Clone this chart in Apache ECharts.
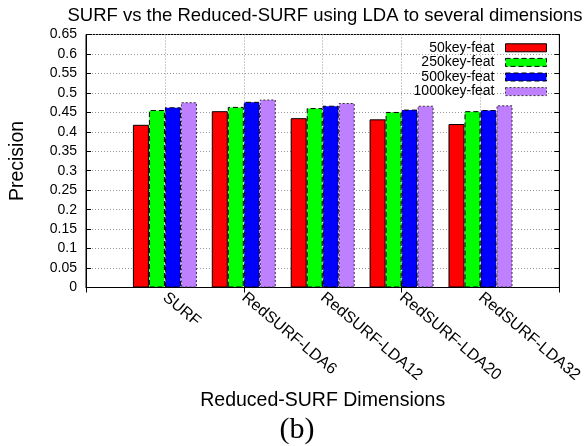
<!DOCTYPE html>
<html>
<head>
<meta charset="utf-8">
<script src="https://cdn.jsdelivr.net/npm/echarts@6/dist/echarts.min.js"></script>
<style>
html,body{margin:0;padding:0;background:#fff;}
#c{width:585px;height:446px;}
</style>
</head>
<body>
<div id="c"></div>
<script>
const categories = ['SURF', 'RedSURF-LDA6', 'RedSURF-LDA12', 'RedSURF-LDA20', 'RedSURF-LDA32'];
const seriesNames = ['50key-feat', '250key-feat', '500key-feat', '1000key-feat'];
const feat50 = [0.418, 0.453, 0.435, 0.432, 0.420];
const feat250 = [0.456, 0.464, 0.461, 0.451, 0.453];
const feat500 = [0.463, 0.477, 0.467, 0.457, 0.456];
const feat1000 = [0.476, 0.483, 0.474, 0.467, 0.468];
const yTicks = [0, 0.05, 0.1, 0.15, 0.2, 0.25, 0.3, 0.35, 0.4, 0.45, 0.5, 0.55, 0.6, 0.65];

const FONT = '"Liberation Sans", Arial, sans-serif';
const colors = ['#ff0000', '#00ff00', '#0000ff', '#bf80ff'];
const borderTypes = ['solid', [5, 3], [5, 3], [2, 2]];
const borderColors = ['#000', '#000', '#000', '#333'];
const allValues = [feat50, feat250, feat500, feat1000];

const cats = [''].concat(categories, ['']);
function pad(a) { return [null].concat(a, [null]); }

const chart = echarts.init(document.getElementById('c'), null, {renderer: 'canvas'});
const series = allValues.map((vals, i) => ({
  name: seriesNames[i],
  type: 'bar',
  data: pad(vals),
  barWidth: 16,
  barGap: '0%',
  itemStyle: {
    color: colors[i],
    borderColor: borderColors[i],
    borderWidth: 1,
    borderType: borderTypes[i]
  }
}));

chart.setOption({
  animation: false,
  backgroundColor: '#fff',
  title: {
    text: 'SURF vs the Reduced-SURF using LDA to several dimensions',
    left: 320, textAlign: 'center', top: 1,
    textStyle: {fontFamily: FONT, fontSize: 18.5, fontWeight: 'normal', color: '#000'}
  },
  legend: {
    data: seriesNames.map((n, i) => ({
      name: n,
      itemStyle: {color: colors[i], borderColor: borderColors[i], borderWidth: 1, borderType: borderTypes[i]}
    })),
    orient: 'vertical',
    right: 33, top: 35.5,
    align: 'right',
    icon: 'rect',
    itemWidth: 41, itemHeight: 8,
    itemGap: 0,
    textStyle: {fontFamily: FONT, fontSize: 14, color: '#000', lineHeight: 14.6, padding: [0, 6, 0, 0]},
    backgroundColor: 'rgba(255,255,255,0)'
  },
  grid: {left: 84, right: 22, top: 34.5, bottom: 446 - 287.5, show: true, borderColor: '#000', borderWidth: 1, backgroundColor: 'transparent'},
  xAxis: [{
    type: 'category',
    data: cats,
    boundaryGap: false,
    axisLine: {lineStyle: {color: '#000'}},
    axisTick: {inside: true, length: 5, lineStyle: {color: '#000'}},
    axisLabel: {rotate: -40, fontFamily: FONT, fontSize: 16, color: '#000', margin: 8, interval: 0},
    splitLine: {show: true, lineStyle: {color: '#999', type: [1, 2], width: 1}},
    name: 'Reduced-SURF Dimensions',
    nameLocation: 'middle',
    nameGap: 89,
    nameTextStyle: {fontFamily: FONT, fontSize: 19.5, color: '#000'}
  }, {
    type: 'category',
    data: cats,
    boundaryGap: false,
    position: 'top',
    axisLine: {show: false},
    axisTick: {inside: true, length: 5, lineStyle: {color: '#000'}},
    axisLabel: {show: false},
    splitLine: {show: false}
  }],
  yAxis: [{
    type: 'value',
    min: 0, max: 0.65, interval: 0.05,
    axisLine: {show: true, lineStyle: {color: '#000'}},
    axisTick: {show: true, inside: true, length: 5, lineStyle: {color: '#000'}},
    axisLabel: {fontFamily: FONT, fontSize: 14, color: '#000', margin: 9,
      formatter: v => { const t = yTicks.find(x => Math.abs(x - v) < 1e-6); return String(t !== undefined ? t : +v.toFixed(2)); }},
    splitLine: {show: true, lineStyle: {color: '#999', type: [1, 2], width: 1}},
    name: 'Precision',
    nameLocation: 'middle',
    nameGap: 58,
    nameRotate: 90,
    nameTextStyle: {fontFamily: FONT, fontSize: 19.5, color: '#000'}
  }, {
    type: 'value',
    position: 'right',
    min: 0, max: 0.65, interval: 0.05,
    axisLine: {show: true, lineStyle: {color: '#000'}},
    axisTick: {show: true, inside: true, length: 5, lineStyle: {color: '#000'}},
    axisLabel: {show: false},
    splitLine: {show: false}
  }],
  graphic: [{
    type: 'text',
    x: 297, y: 430,
    style: {text: '(b)', font: '30px "Liberation Serif", "Times New Roman", serif', fill: '#000', textAlign: 'center', textVerticalAlign: 'middle'}
  }],
  series: series
});
</script>
</body>
</html>
